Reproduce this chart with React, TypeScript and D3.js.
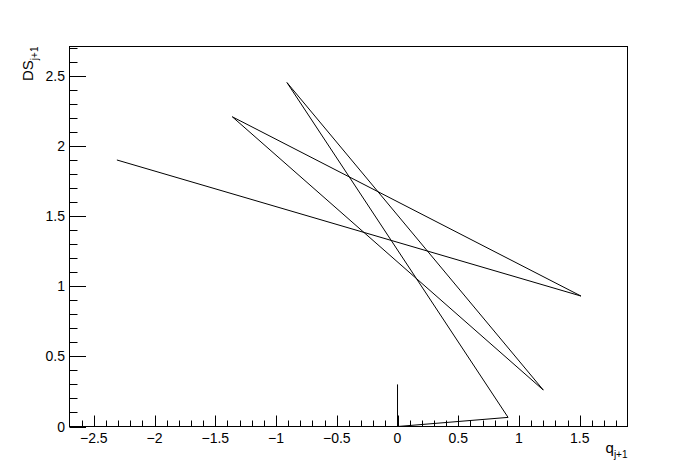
import React from "react";
import * as d3 from "d3";

const qValues = [0, 0, 0.91, -0.91, 1.2, -1.36, 1.51, -2.31];
const dsValues = [0.3, 0, 0.065, 2.452, 0.26, 2.208, 0.93, 1.9];
const xMajorTicks = [-2.5, -2, -1.5, -1, -0.5, 0, 0.5, 1, 1.5];
const yMajorTicks = [0, 0.5, 1, 1.5, 2, 2.5];
const xTitle = "q";
const yTitle = "DS";
const titleSub = "j+1";

const W = 698;
const H = 475;
const L = 69.5, R = 627.5, T = 46.5, B = 426.5;

function fmt(v: number) {
  const s = String(Math.abs(v));
  return v < 0 ? "\u2212" + s : s;
}

export default function App() {
  const x = d3.scaleLinear().domain([-2.7, 1.893]).range([L, R]);
  const y = d3.scaleLinear().domain([0, 2.709]).range([B, T]);

  const xMinor = d3.range(-26, 19).map((i) => i / 10).filter((v) => !xMajorTicks.some((m) => Math.abs(m - v) < 1e-6));
  const yMinor = d3.range(1, 28).map((i) => i / 10).filter((v) => !yMajorTicks.some((m) => Math.abs(m - v) < 1e-6));

  const line = d3
    .line<number>()
    .x((_, i) => x(qValues[i]))
    .y((_, i) => y(dsValues[i]));

  const font = "'Liberation Sans', Arial, Helvetica, sans-serif";

  return (
    <svg width={W} height={H} style={{ position: "absolute", left: 0, top: 0, background: "#fff" }} fontFamily={font}>
      <rect x={0} y={0} width={W} height={H} fill="#fff" />
      <path d={line(qValues) || ""} fill="none" stroke="#000" strokeWidth={1} />
      <rect x={L} y={T} width={R - L} height={B - T} fill="none" stroke="#000" strokeWidth={1} />
      {xMajorTicks.map((v) => (
        <g key={"xm" + v}>
          <line x1={Math.round(x(v)) + 0.5} x2={Math.round(x(v)) + 0.5} y1={B} y2={B - 11} stroke="#000" />
          <text x={x(v)} y={443} fontSize={14} textAnchor="middle">{fmt(v)}</text>
        </g>
      ))}
      {xMinor.map((v) => (
        <line key={"xn" + v} x1={Math.round(x(v)) + 0.5} x2={Math.round(x(v)) + 0.5} y1={B} y2={B - 6} stroke="#000" />
      ))}
      {yMajorTicks.map((v) => (
        <g key={"ym" + v}>
          <line x1={L} x2={L + 16.5} y1={Math.round(y(v)) + 0.5} y2={Math.round(y(v)) + 0.5} stroke="#000" />
          <text x={65} y={y(v) + 5} fontSize={14} textAnchor="end">{fmt(v)}</text>
        </g>
      ))}
      {yMinor.map((v) => (
        <line key={"yn" + v} x1={L} x2={L + 8} y1={Math.round(y(v)) + 0.5} y2={Math.round(y(v)) + 0.5} stroke="#000" />
      ))}
      <text x={R} y={453} fontSize={15} textAnchor="end">
        <tspan>{xTitle}</tspan>
        <tspan fontSize={10} dy={5}>{titleSub}</tspan>
      </text>
      <text transform={`translate(33,${T}) rotate(-90)`} fontSize={15} textAnchor="end">
        <tspan>{yTitle}</tspan>
        <tspan fontSize={10} dy={5}>{titleSub}</tspan>
      </text>
    </svg>
  );
}
